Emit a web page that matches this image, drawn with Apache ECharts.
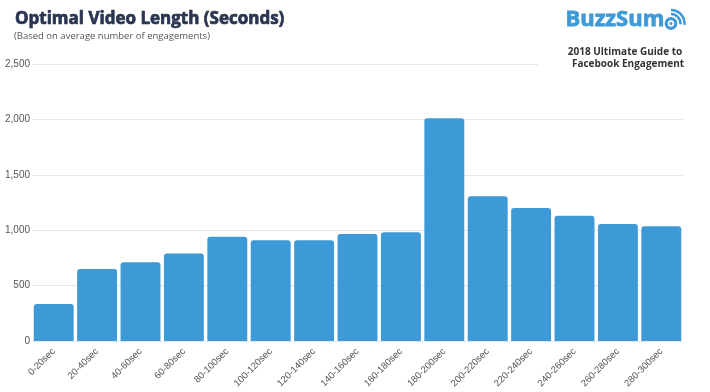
<!DOCTYPE html>
<html><head><meta charset="utf-8">
<script src="https://cdn.jsdelivr.net/npm/echarts@6/dist/echarts.min.js"></script>
<style>html,body{margin:0;padding:0;background:#fff}#c{width:710px;height:392px}</style>
</head><body><div id="c"></div>
<script>
const categories = ['0-20sec','20-40sec','40-60sec','60-80sec','80-100sec','100-120sec','120-140sec','140-160sec','160-180sec','180-200sec','200-220sec','220-240sec','240-260sec','260-280sec','280-300sec'];
const engagements = [335, 650, 710, 790, 940, 910, 910, 965, 982, 2010, 1307, 1200, 1130, 1055, 1035];
const yTicks = [0, 500, 1000, 1500, 2000, 2500];

const chart = echarts.init(document.getElementById('c'), null, {renderer:'canvas'});
const blue = '#3d9ad6';
chart.setOption({
  animation:false,
  backgroundColor:'#fff',
  title:[{
    text:'Optimal Video Length (Seconds)', left:15, top:11, padding:0,
    textStyle:{fontFamily:'Open Sans', fontWeight:'bold', fontSize:17, color:'#2a3550',
      textBorderColor:'#2a3550', textBorderWidth:0.7}
  },{
    text:'(Based on average number of engagements)', left:14, top:31, padding:0,
    textStyle:{fontFamily:'Open Sans', fontWeight:'normal', fontSize:9.5, color:'#555'}
  }],
  grid:{left:32, right:27, top:64, bottom:51, containLabel:false},
  xAxis:{
    type:'category', data:categories,
    axisLine:{show:false}, axisTick:{show:false},
    axisLabel:{rotate:45, fontFamily:'Liberation Sans', fontSize:9.5, color:'#555', margin:9, interval:0}
  },
  yAxis:{
    type:'value', min:yTicks[0], max:yTicks[yTicks.length-1], interval:500,
    axisLine:{show:false}, axisTick:{show:false},
    axisLabel:{fontFamily:'Liberation Sans', fontSize:10, color:'#555', margin:2,
      formatter:v=>v.toLocaleString('en-US')},
    splitLine:{lineStyle:{color:'#e6e6e6', width:1}}
  },
  series:[{
    type:'bar', data:engagements, barCategoryGap:'8%',
    itemStyle:{color:blue, borderRadius:[3,3,0,0]}
  }],
  graphic:[
    {type:'rect', left:538, top:40, shape:{width:160, height:34}, style:{fill:'#fff'}, z:100},
    {type:'text', left:565, top:8, z:101,
      style:{text:'BuzzSum', font:'bold 22px "Open Sans"', fill:blue, stroke:blue, lineWidth:0.8}},
    {type:'circle', z:101, shape:{cx:671, cy:23.5, r:4.8}, style:{stroke:blue, lineWidth:3.2, fill:null}},
    {type:'circle', z:101, shape:{cx:671, cy:23.5, r:1.5}, style:{fill:blue}},
    {type:'arc', z:101, shape:{cx:671, cy:23.5, r:9.5, startAngle:-Math.PI*0.5, endAngle:0.1},
      style:{stroke:blue, lineWidth:2.5, fill:null}},
    {type:'arc', z:101, shape:{cx:671, cy:23.5, r:13.5, startAngle:-Math.PI*0.5, endAngle:0.1},
      style:{stroke:blue, lineWidth:2.5, fill:null}},
    {type:'text', z:101, x:625, y:52,
      style:{text:'2018 Ultimate Guide to', font:'bold 10px "Open Sans"', fill:'#333', textAlign:'center', textVerticalAlign:'middle'}},
    {type:'text', z:101, x:628, y:64,
      style:{text:'Facebook Engagement', font:'bold 10px "Open Sans"', fill:'#333', textAlign:'center', textVerticalAlign:'middle'}}
  ]
});
</script></body></html>
